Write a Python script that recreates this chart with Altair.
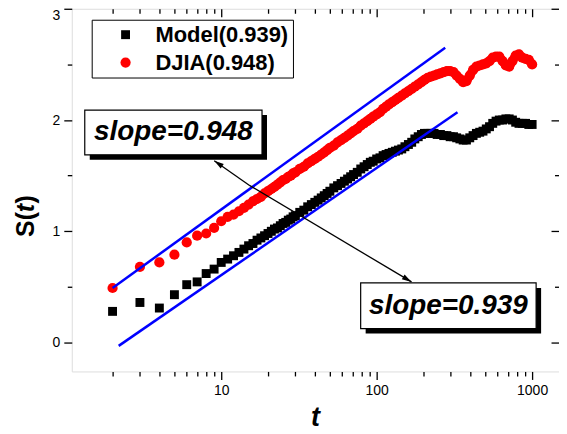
import altair as alt
import pandas as pd

# ---------------- data ----------------
t_vals = [2, 3, 4, 5, 6, 7, 8, 9, 10, 11, 12, 13, 14, 15, 16, 17, 18, 19, 20, 21, 22, 23, 24, 25, 26, 27, 28, 29, 30,
          32, 34, 36, 38, 40, 42, 44, 46, 48, 50, 53, 56, 59, 62, 65, 68, 71, 75, 79, 83, 87, 91, 95, 100,
          105, 110, 115, 120, 126, 132, 138, 145, 152, 160, 168, 176, 185, 194, 203, 213, 223, 234, 245, 257,
          270, 283, 297, 312, 327, 343, 360, 378, 397, 417, 438, 460, 483, 507, 532, 558, 586, 615, 646, 678,
          712, 747, 784, 823, 864, 907, 952, 1000]

djia_vals = [0.49, 0.68, 0.72, 0.79, 0.90, 0.96, 0.98, 1.03, 1.09, 1.13, 1.15, 1.18, 1.21, 1.24, 1.27, 1.29, 1.31,
             1.34, 1.36, 1.38, 1.40, 1.42, 1.44, 1.46, 1.47, 1.49, 1.50, 1.52, 1.53,
             1.56, 1.58, 1.61, 1.63, 1.65, 1.67, 1.69, 1.71, 1.73, 1.75,
             1.77, 1.80, 1.82, 1.84, 1.86, 1.88, 1.90, 1.92, 1.95, 1.97, 1.99, 2.01, 2.03, 2.05,
             2.07, 2.10, 2.12, 2.14, 2.16, 2.18, 2.20, 2.22, 2.24, 2.26,
             2.28, 2.30, 2.32, 2.34, 2.36, 2.38, 2.39, 2.40, 2.41, 2.42,
             2.43, 2.44, 2.44, 2.43, 2.40, 2.37, 2.34, 2.35, 2.40, 2.45,
             2.48, 2.49, 2.50, 2.51, 2.53, 2.56, 2.57, 2.57, 2.53, 2.49,
             2.48, 2.53, 2.58, 2.59, 2.56, 2.55, 2.54, 2.50]

model_vals = [0.28, 0.36, 0.31, 0.43, 0.52, 0.545, 0.62, 0.66, 0.72, 0.75, 0.78, 0.81, 0.84, 0.87, 0.89, 0.92, 0.94,
              0.96, 0.98, 1.00, 1.02, 1.03, 1.05, 1.07, 1.08, 1.10, 1.11, 1.13, 1.14,
              1.17, 1.19, 1.22, 1.24, 1.26, 1.28, 1.30, 1.32, 1.34, 1.36,
              1.39, 1.41, 1.43, 1.45, 1.47, 1.49, 1.51, 1.53, 1.56, 1.58, 1.60, 1.62, 1.63, 1.65,
              1.66, 1.68, 1.69, 1.70, 1.71, 1.72, 1.73, 1.74, 1.76, 1.78,
              1.80, 1.83, 1.85, 1.87, 1.88, 1.88, 1.88, 1.88, 1.87, 1.87,
              1.86, 1.86, 1.85, 1.85, 1.84, 1.83, 1.82, 1.82, 1.84, 1.86,
              1.88, 1.89, 1.90, 1.92, 1.94, 1.97, 1.99, 2.00, 2.00, 2.01,
              2.01, 2.00, 1.98, 1.97, 1.97, 1.97, 1.96, 1.96]

series_names = ["Model(0.939)", "DJIA(0.948)"]

# fitted straight lines (end points)
fit_id = ["DJIA", "DJIA", "Model", "Model"]
fit_t = [2.0, 276.0, 2.19, 331.0]
fit_s = [0.49, 2.65, -0.03, 2.07]

# annotation boxes
box_label = ["slope=0.948", "slope=0.939"]
box_t1 = [1.325, 78.9]
box_t2 = [18.3, 1061.0]
box_s1 = [1.6875, 0.125]
box_s2 = [2.089, 0.536]
box_tc = [4.92, 289.5]
box_sc = [1.888, 0.33]

# arrows
arr_t0 = [15.3, 15.3]
arr_s0 = [1.41, 1.41]
arr_t1 = [9.02, 167.6]
arr_s1 = [1.634, 0.545]
arr_angle = [304.8, 120.9]

x_ticks = [2, 3, 4, 5, 6, 7, 8, 9, 10, 20, 30, 40, 50, 60, 70, 80, 90, 100,
           200, 300, 400, 500, 600, 700, 800, 900, 1000]
y_ticks = [0, 0.5, 1, 1.5, 2, 2.5, 3]

# ---------------- frames ----------------
pts = pd.DataFrame({
    "t": t_vals + t_vals,
    "s": model_vals + djia_vals,
    "series": [series_names[0]] * len(t_vals) + [series_names[1]] * len(t_vals),
})
fits = pd.DataFrame({"id": fit_id, "t": fit_t, "s": fit_s})
boxes = pd.DataFrame({"label": box_label, "t1": box_t1, "t2": box_t2, "s1": box_s1,
                      "s2": box_s2, "tc": box_tc, "sc": box_sc})
arrows = pd.DataFrame({"t0": arr_t0, "s0": arr_s0, "t1": arr_t1, "s1": arr_s1, "angle": arr_angle})

W, H = 489, 364
FONT = "Liberation Sans"

xscale = alt.Scale(type="log", domain=[1.093, 1489], nice=False)
yscale = alt.Scale(domain=[-0.26, 3.0], nice=False, zero=False)

x_major = "indexof([10,100,1000], datum.value) >= 0"
y_major = "datum.value % 1 == 0"

common = dict(grid=False, domain=False, title=None, tickColor="black", tickWidth=1.3,
              labelFont=FONT, labelFontSize=14, labelColor="black", labelOverlap=False)

x_axis_bottom = alt.Axis(orient="bottom", values=x_ticks, labelFlush=False,
                         tickSize={"condition": {"test": x_major, "value": 8}, "value": 4.5},
                         labelExpr=f"{x_major} ? format(datum.value, 'd') : ''",
                         labelPadding=4, **common)
y_axis_left = alt.Axis(orient="left", values=y_ticks, labelFlush=True,
                       tickSize={"condition": {"test": y_major, "value": 8}, "value": 4.5},
                       labelExpr=f"{y_major} ? format(datum.value, 'd') : ''",
                       labelPadding=4, **common)
x_axis_top = alt.Axis(orient="bottom", values=x_ticks, offset=-H, labels=False,
                      tickSize={"condition": {"test": x_major, "value": 8}, "value": 4.5}, **common)
y_axis_right = alt.Axis(orient="left", values=y_ticks, offset=-W, labels=False,
                        tickSize={"condition": {"test": y_major, "value": 8}, "value": 4.5}, **common)

legend = alt.Legend(orient="none", legendX=20, legendY=11, title=None,
                    strokeColor="black", fillColor="white", padding=4,
                    labelFont=FONT, labelFontSize=22, labelFontWeight="bold", labelColor="black",
                    symbolSize=90, symbolOffset=19, labelOffset=19, rowPadding=6,
                    symbolStrokeWidth=0)

color_scale = alt.Scale(domain=series_names, range=["black", "red"])
shape_scale = alt.Scale(domain=series_names, range=["square", "circle"])

# dense part of each series merges into a thick band (drawn under the markers)
band_model = alt.Chart(pts).transform_filter(
    f"datum.t >= 16 && datum.series == '{series_names[0]}'"
).mark_line(color="black", strokeWidth=7, strokeJoin="round", strokeCap="round").encode(
    x=alt.X("t:Q", scale=xscale, axis=None),
    y=alt.Y("s:Q", scale=yscale, axis=None),
)
band_djia = alt.Chart(pts).transform_filter(
    f"datum.t >= 16 && datum.series == '{series_names[1]}'"
).mark_line(color="red", strokeWidth=9, strokeJoin="round", strokeCap="round").encode(
    x=alt.X("t:Q", scale=xscale, axis=None),
    y=alt.Y("s:Q", scale=yscale, axis=None),
)

points = alt.Chart(pts).mark_point(filled=True, opacity=1).encode(
    x=alt.X("t:Q", scale=xscale, axis=x_axis_bottom),
    y=alt.Y("s:Q", scale=yscale, axis=y_axis_left),
    color=alt.Color("series:N", scale=color_scale, legend=legend),
    shape=alt.Shape("series:N", scale=shape_scale, legend=legend),
    size=alt.Size("series:N", scale=alt.Scale(domain=series_names, range=[80, 105]), legend=None),
)

fit_lines = alt.Chart(fits).mark_line(color="#0000ff", strokeWidth=2.5).encode(
    x=alt.X("t:Q", scale=xscale, axis=x_axis_top),
    y=alt.Y("s:Q", scale=yscale, axis=y_axis_right),
    detail="id:N",
)

arrow_lines = alt.Chart(arrows).mark_rule(color="black", strokeWidth=1.3).encode(
    x=alt.X("t0:Q", scale=xscale, axis=None),
    y=alt.Y("s0:Q", scale=yscale, axis=None),
    x2="t1:Q", y2="s1:Q",
)
arrow_heads = alt.Chart(arrows).mark_point(
    shape="M0,0 L-0.28,1 L0.28,1 Z", filled=True, color="black", opacity=1, size=380
).encode(
    x=alt.X("t1:Q", scale=xscale, axis=None),
    y=alt.Y("s1:Q", scale=yscale, axis=None),
    angle=alt.Angle("angle:Q", scale=None),
)

shadows = alt.Chart(boxes).mark_rect(color="black", xOffset=5, x2Offset=5, yOffset=5, y2Offset=5).encode(
    x=alt.X("t1:Q", scale=xscale, axis=None), x2="t2:Q",
    y=alt.Y("s1:Q", scale=yscale, axis=None), y2="s2:Q",
)
frames = alt.Chart(boxes).mark_rect(fill="white", stroke="black", strokeWidth=1.2).encode(
    x=alt.X("t1:Q", scale=xscale, axis=None), x2="t2:Q",
    y=alt.Y("s1:Q", scale=yscale, axis=None), y2="s2:Q",
)
box_text = alt.Chart(boxes).mark_text(font=FONT, fontSize=28, fontWeight="bold", fontStyle="italic",
                                      color="black", baseline="middle", align="center").encode(
    x=alt.X("tc:Q", scale=xscale, axis=None),
    y=alt.Y("sc:Q", scale=yscale, axis=None),
    text="label:N",
)

# axis titles (mixed upright / italic)
one = pd.DataFrame({"k": [0]})
ytitle_a = alt.Chart(one).mark_text(text="S(", font=FONT, fontSize=25, fontWeight="bold", angle=270,
                                    align="right", baseline="middle", color="black").encode(
    x=alt.value(-46), y=alt.value(204))
ytitle_b = alt.Chart(one).mark_text(text="t", font=FONT, fontSize=25, fontWeight="bold", fontStyle="italic",
                                    angle=270, align="center", baseline="middle", color="black").encode(
    x=alt.value(-46), y=alt.value(200))
ytitle_c = alt.Chart(one).mark_text(text=")", font=FONT, fontSize=25, fontWeight="bold", angle=270,
                                    align="left", baseline="middle", color="black").encode(
    x=alt.value(-46), y=alt.value(195.5))
xtitle = alt.Chart(one).mark_text(text="t", font=FONT, fontSize=27, fontWeight="bold", fontStyle="italic",
                                  align="center", baseline="alphabetic", color="black").encode(
    x=alt.value(W / 2), y=alt.value(419))

chart = alt.layer(
    band_model, band_djia, points, fit_lines, arrow_lines, arrow_heads, shadows, frames, box_text,
    ytitle_a, ytitle_b, ytitle_c, xtitle,
).resolve_axis(x="independent", y="independent").properties(
    width=W, height=H,
    autosize=alt.AutoSizeParams(type="none"),
    padding={"left": 64, "top": 0, "right": 0, "bottom": 61},
    background="white",
).configure_view(stroke="black", strokeWidth=1.5).configure(font=FONT)

chart.save("out.html", embed_options={"renderer": "svg", "actions": False})
